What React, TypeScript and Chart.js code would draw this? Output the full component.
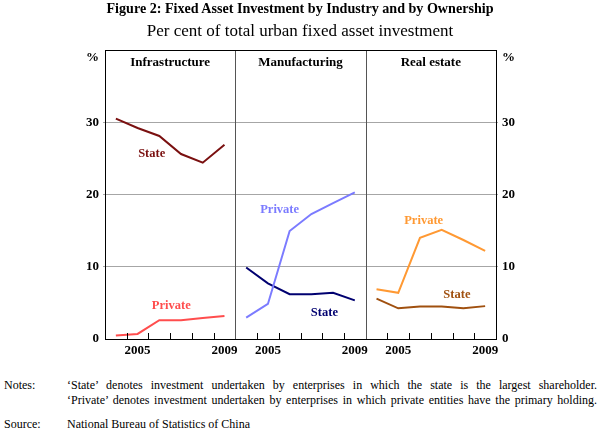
// @ts-nocheck
import { useEffect, useRef } from "react";
import { Chart, registerables } from "chart.js";
Chart.register(...registerables);

// panels share one x scale: each panel spans 6 years (2004..2009)
const years = [2004, 2005, 2006, 2007, 2008, 2009];
const panels = ["Infrastructure", "Manufacturing", "Real estate"];
const labelledYears = [2005, 2009];

const infraState = [30.5, 29.2, 28.1, 25.6, 24.4, 26.9];
const infraPrivate = [0.5, 0.7, 2.6, 2.6, 2.9, 3.2];
const mfgState = [9.9, 7.7, 6.2, 6.2, 6.4, 5.35];
const mfgPrivate = [2.95, 4.85, 14.95, 17.3, 18.8, 20.3];
const reState = [5.6, 4.25, 4.5, 4.5, 4.25, 4.55];
const rePrivate = [6.9, 6.4, 14.0, 15.1, 13.7, 12.2];

const yTicks = [0, 10, 20, 30, 40];

const SERIF = '"Liberation Serif", "Times New Roman", serif';

const xOf = (panel, year) => panel * years.length + (year - years[0]) + 0.5;
const toPoints = (panel, vals) => vals.map((v, i) => ({ x: xOf(panel, years[i]), y: v }));

// series: [panel, values, colour, label, label anchor (x in years, y in %)]
const series = [
  [0, infraState, "#7a1010", "State", 2006.15, 25.6],
  [0, infraPrivate, "#ff4d4d", "Private", 2007.05, 4.6],
  [1, mfgPrivate, "#7b7bff", "Private", 2006.04, 17.95],
  [1, mfgState, "#000070", "State", 2008.1, 3.6],
  [2, rePrivate, "#ff9933", "Private", 2006.67, 16.4],
  [2, reState, "#a0500f", "State", 2008.2, 6.1],
];

const panelDecor = {
  id: "panelDecor",
  afterDraw(chart) {
    const { ctx, chartArea: a, scales } = chart;
    const x = scales.x;
    const n = years.length;
    ctx.save();
    ctx.strokeStyle = "#000";
    ctx.lineWidth = 1;
    // inner tick marks at year boundaries
    for (let p = 0; p < panels.length; p++) {
      for (let k = 1; k < n; k++) {
        const px = Math.round(x.getPixelForValue(p * n + k)) + 0.5;
        ctx.beginPath();
        ctx.moveTo(px, a.bottom);
        ctx.lineTo(px, a.bottom - 6);
        ctx.stroke();
      }
    }
    // panel dividers
    ctx.strokeStyle = "#555";
    for (let p = 1; p < panels.length; p++) {
      const px = Math.round(x.getPixelForValue(p * n)) + 0.5;
      ctx.beginPath();
      ctx.moveTo(px, a.top);
      ctx.lineTo(px, a.bottom);
      ctx.stroke();
    }
    // frame
    ctx.strokeStyle = "#000";
    ctx.strokeRect(Math.round(a.left) + 0.5, Math.round(a.top) + 0.5, Math.round(a.width), Math.round(a.height));
    // panel titles
    ctx.fillStyle = "#000";
    ctx.font = "bold 13px " + SERIF;
    ctx.textAlign = "center";
    ctx.textBaseline = "middle";
    panels.forEach((t, p) => {
      ctx.fillText(t, x.getPixelForValue(p * n + n / 2), a.top + 13);
    });
    // series labels
    ctx.font = "bold 12.5px " + SERIF;
    series.forEach(([p, , c, lab, lx, ly]) => {
      ctx.fillStyle = c;
      ctx.fillText(lab, x.getPixelForValue(p * n + (lx - years[0])), scales.y.getPixelForValue(ly));
    });
    ctx.restore();
  },
};

function FixedAssetChart() {
  const canvasRef = useRef(null);
  const chartRef = useRef(null);

  useEffect(() => {
    const ctx = canvasRef.current.getContext("2d");
    const n = years.length;
    const tickFont = { family: SERIF, size: 13, weight: "bold" };
    const yAxis = (position, grid) => ({
      position,
      min: 0,
      max: 40,
      afterBuildTicks: (s) => {
        s.ticks = yTicks.map((v) => ({ value: v }));
      },
      afterFit: (s) => {
        s.width = position === "left" ? 105 : 104;
      },
      ticks: {
        color: "#000",
        font: tickFont,
        padding: 4,
        callback: (v) => (v === 40 ? ["", "%"] : String(v)),
      },
      grid: {
        display: true,
        drawOnChartArea: grid,
        tickLength: 2,
        color: (c) => (c.tick && (c.tick.value === 0 || c.tick.value === 40) ? "rgba(0,0,0,0)" : "#a6a6a6"),
      },
      border: { display: true, color: "#000" },
    });

    chartRef.current = new Chart(ctx, {
      type: "line",
      data: {
        datasets: series.map(([p, vals, c, lab]) => ({
          label: lab,
          data: toPoints(p, vals),
          borderColor: c,
          backgroundColor: c,
          borderWidth: 2,
          pointRadius: 0,
          tension: 0,
          fill: false,
        })),
      },
      options: {
        animation: false,
        responsive: false,
        layout: { padding: { top: 50, left: 0, right: 0, bottom: 0 } },
        plugins: { legend: { display: false }, tooltip: { enabled: false } },
        scales: {
          x: {
            type: "linear",
            min: 0,
            max: n * panels.length,
            afterBuildTicks: (s) => {
              const t = [];
              for (let p = 0; p < panels.length; p++) {
                labelledYears.forEach((yr) => t.push({ value: xOf(p, yr) }));
              }
              s.ticks = t;
            },
            afterFit: (s) => {
              s.height = 21;
            },
            ticks: {
              autoSkip: false,
              maxRotation: 0,
              color: "#000",
              font: tickFont,
              padding: 4,
              callback: (v) => String(years[0] + Math.floor(v % n)),
            },
            grid: { display: false, drawTicks: false },
            border: { display: true, color: "#000" },
          },
          y: yAxis("left", true),
          y2: yAxis("right", false),
        },
      },
      plugins: [panelDecor],
    });

    return () => {
      chartRef.current?.destroy();
    };
  }, []);

  return <canvas ref={canvasRef} width={600} height={360} style={{ display: "block" }} />;
}

export default function App() {
  const note = { fontFamily: SERIF, fontSize: 12, lineHeight: "14px", color: "#000", position: "absolute", whiteSpace: "nowrap" };
  const just = { ...note, left: 67, width: 530, textAlign: "justify", textAlignLast: "justify", whiteSpace: "normal" };
  return (
    <div style={{ position: "fixed", left: 0, top: 0, width: 600, height: 438, background: "#fff", overflow: "hidden" }}>
      <div style={{ position: "absolute", left: 0, top: 0 }}>
        <FixedAssetChart />
      </div>
      <div style={{ position: "absolute", top: -2, left: 0, width: 600, textAlign: "center", fontFamily: SERIF, fontSize: 14.1, fontWeight: "bold", lineHeight: "20px" }}>
        Figure 2: Fixed Asset Investment by Industry and by Ownership
      </div>
      <div style={{ position: "absolute", top: 21, left: 0, width: 600, textAlign: "center", fontFamily: SERIF, fontSize: 17, lineHeight: "20px" }}>
        Per cent of total urban fixed asset investment
      </div>
      <div style={{ ...note, left: 4, top: 378 }}>Notes:</div>
      <div style={{ ...just, top: 378 }}>
        ‘State’ denotes investment undertaken by enterprises in which the state is the largest shareholder.
      </div>
      <div style={{ ...just, top: 393 }}>
        ‘Private’ denotes investment undertaken by enterprises in which private entities have the primary holding.
      </div>
      <div style={{ ...note, left: 4, top: 417 }}>Source:</div>
      <div style={{ ...note, left: 67, top: 417 }}>National Bureau of Statistics of China</div>
    </div>
  );
}
